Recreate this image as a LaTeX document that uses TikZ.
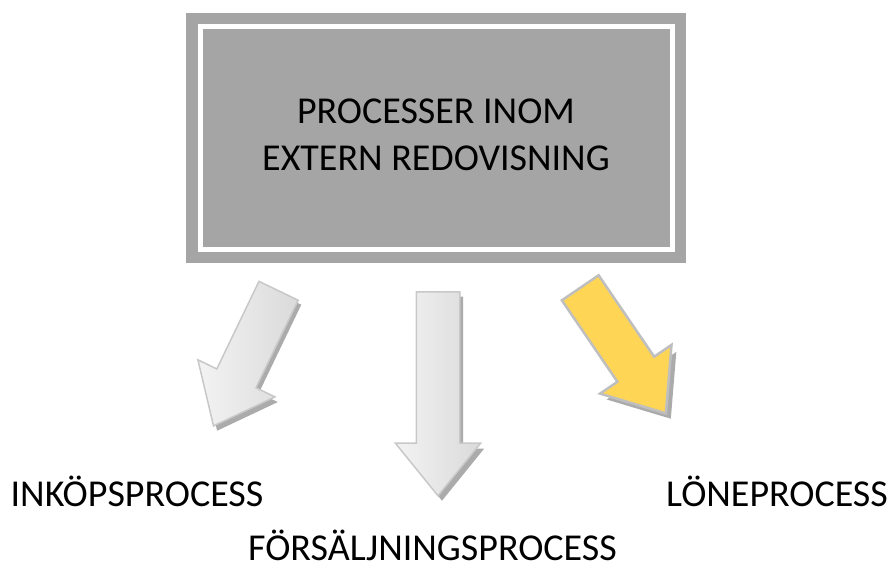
\documentclass[tikz,border=0pt]{standalone}
\usepackage{fontspec}
\setmainfont{Carlito}
\usepackage{tikz}
\usetikzlibrary{shapes.arrows}
\definecolor{boxgray}{HTML}{A5A5A5}
\definecolor{arrowline}{HTML}{C8C8C8}
\definecolor{arrowlight}{HTML}{F3F3F3}
\definecolor{arrowdark}{HTML}{DADADA}
\definecolor{gold}{HTML}{FFD556}
\definecolor{goldline}{HTML}{BFBFBF}
\definecolor{shade}{HTML}{ABABAB}
\tikzset{
  frame/.style    = {rectangle, fill=boxgray, inner sep=0pt,
                     minimum width=500pt, minimum height=250pt},
  panel/.style    = {rectangle, fill=boxgray, draw=white, line width=5pt, inner sep=0pt,
                     minimum width=472pt, minimum height=223pt},
  title/.style    = {align=center, inner sep=0pt, font=\fontsize{38}{47}\selectfont},
  lbl/.style      = {inner sep=0pt, anchor=base, font=\fontsize{38}{47}\selectfont},
  bigarrow/.style = {single arrow, anchor=tip, inner xsep=0pt, inner ysep=21pt,
                     single arrow head extend=21pt, single arrow tip angle=78,
                     single arrow head indent=0pt},
  greyarrow/.style = {bigarrow, draw=arrowline, line width=1.5pt,
                     left color=arrowlight, right color=arrowdark},
  goldarrow/.style = {bigarrow, draw=goldline, line width=2.5pt, fill=gold},
  shadow/.style   = {bigarrow, fill=shade},
}

\begin{document}
\begin{tikzpicture}[x=1pt, y=-1pt]
  \useasboundingbox (0,0) rectangle (890,567);

  \node[frame] (frame) at (436,138) {};
  \node[panel] (panel) at (frame.center) {};
  \node[title] (title) at (436,135) {PROCESSER INOM\\EXTERN REDOVISNING};

  % shadows first, arrows on top
  \node[shadow, minimum height=150pt, rotate=-115.7] (leftshadow) at (217,431) {};
  \node[shadow, minimum height=204pt, rotate=-90] (midshadow) at (442,501) {};
  \node[shadow, minimum height=152pt, rotate=-55.7] (rightshadow) at (671,419) {};

  \node[greyarrow, minimum height=150pt, rotate=-115.7] (leftarrow) at (213,427) {};
  \node[greyarrow, minimum height=204pt, rotate=-90] (midarrow) at (438,497) {};
  \node[goldarrow, minimum height=152pt, rotate=-55.7] (rightarrow) at (667,415) {};

  \node[lbl] (inkop) at (137,506) {INKÖPSPROCESS};
  \node[lbl] (forsaljning) at (432.5,560) {FÖRSÄLJNINGSPROCESS};
  \node[lbl] (lone) at (777,506) {LÖNEPROCESS};
\end{tikzpicture}
\end{document}
